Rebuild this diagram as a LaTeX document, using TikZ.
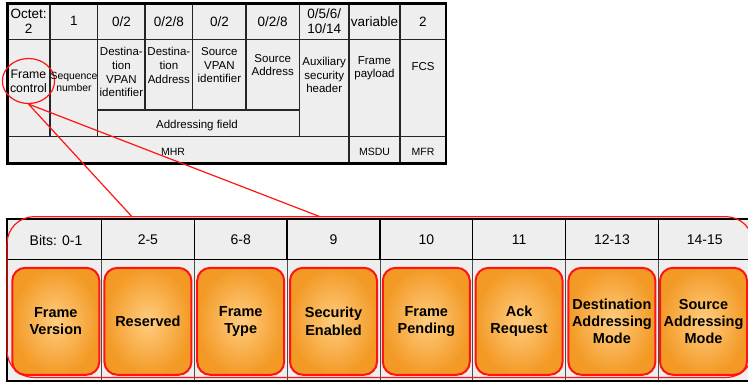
\documentclass[tikz,border=0pt]{standalone}
\usepackage{fontspec}
\setmainfont{Liberation Sans}
\usepackage{tikz}
\usepackage{xcolor}
\usetikzlibrary{shapes.geometric}
\definecolor{cellgray}{HTML}{EEEEEE}
\definecolor{boxlight}{HTML}{FFCD80}
\definecolor{boxdark}{HTML}{F39A26}
\definecolor{markred}{HTML}{FF1414}

\begin{document}
\begin{tikzpicture}[x=1pt,y=-1pt,
		octet/.style={align=center,inner sep=0pt,font=\fontsize{13.5}{15.5}\selectfont},
		field/.style={align=center,inner sep=0pt,font=\fontsize{11.5}{13.6}\selectfont},
		part/.style={inner sep=0pt,font=\fontsize{10.5}{12}\selectfont},
		bits/.style={inner sep=0pt,font=\fontsize{14}{16}\selectfont},
		subfield/.style={draw=markred,line width=2pt,rounded corners=13pt,inner color=boxlight,outer color=boxdark,minimum width=87pt,minimum height=107pt,align=center,inner sep=0pt,font=\fontsize{14.5}{17.2}\selectfont\bfseries}]
			\useasboundingbox (0,0) rectangle (748,385);
			\fill[cellgray] (7.3,3.3) rectangle (446,163.5);
			\begin{scope}[line width = 1.5pt, draw=black!85]
				\draw (7.3,39.3) -- (446,39.3);
				\draw (97.7,110) -- (299.3,110);
				\draw (7.3,136.7) -- (446,136.7);
				\draw (50,3.3) -- (50,136.7);
				\draw (97.7,3.3) -- (97.7,136.7);
				\draw (145,3.3) -- (145,110);
				\draw (192.7,3.3) -- (192.7,110);
				\draw (246,3.3) -- (246,110);
				\draw (299.3,3.3) -- (299.3,136.7);
				\draw (349,3.3) -- (349,163.5);
				\draw (400,3.3) -- (400,163.5);
			\end{scope}
			\draw [line width = 2.5pt](7.3,3.3) rectangle (446,163.5);
			\node[octet] (size1) at (28.7,21.3) {Octet:\\2};
			\node[octet] (size2) at (73.9,21.3) {1};
			\node[octet] (size3) at (121.4,21.3) {0/2};
			\node[octet] (size4) at (168.9,21.3) {0/2/8};
			\node[octet] (size5) at (219.4,21.3) {0/2};
			\node[octet] (size6) at (272.7,21.3) {0/2/8};
			\node[octet] (size7) at (324.2,21.3) {0/5/6/\\10/14};
			\node[octet] (size8) at (374.5,21.3) {variable};
			\node[octet] (size9) at (423,21.3) {2};
			\node[field,font=\fontsize{12.3}{14}\selectfont,ellipse,draw=markred,line width=1.2pt,minimum width=50pt,minimum height=45pt] (fc) at (28.5,81) {Frame\\control};
			\node[field,font=\fontsize{10.4}{12.5}\selectfont] (seq) at (74,82) {Sequence\\number};
			\node[field] (dstpan) at (121.4,72.2) {Destina-\\tion\\VPAN\\identifier};
			\node[field] (dstaddr) at (168.9,65.3) {Destina-\\tion\\Address};
			\node[field] (srcpan) at (219.4,65.3) {Source\\VPAN\\identifier};
			\node[field] (srcaddr) at (272.7,65) {Source\\Address};
			\node[field] (aux) at (324.2,75) {Auxiliary\\security\\header};
			\node[field] (payload) at (374.5,68.3) {Frame\\payload};
			\node[field] (fcs) at (423,66.7) {FCS};
			\node[field] (addr) at (197,126) {Addressing field};
			\node[part] (mhr) at (173,151.7) {MHR};
			\node[part] (msdu) at (374.5,151.7) {MSDU};
			\node[part] (mfr) at (423,151.7) {MFR};
			\fill[cellgray] (7.3,219.5) rectangle (752,381);
			\begin{scope}[line width = 0.8pt, draw=black!70]
				\draw (101.5,259.3) -- (101.5,381);
				\draw (194.3,259.3) -- (194.3,381);
				\draw (287.1,259.3) -- (287.1,381);
				\draw (379.9,259.3) -- (379.9,381);
				\draw (472.7,259.3) -- (472.7,381);
				\draw (565.5,259.3) -- (565.5,381);
				\draw (658.3,259.3) -- (658.3,381);
			\end{scope}
			\begin{scope}[line width = 1.5pt]
				\draw (7.3,259.3) -- (752,259.3);
				\draw (101.5,219.5) -- (101.5,259.3);
				\draw (194.3,219.5) -- (194.3,259.3);
				\draw (287.1,219.5) -- (287.1,259.3);
				\draw (379.9,219.5) -- (379.9,259.3);
				\draw (472.7,219.5) -- (472.7,259.3);
				\draw (565.5,219.5) -- (565.5,259.3);
				\draw (658.3,219.5) -- (658.3,259.3);
			\end{scope}
			\draw [line width = 2pt](7.3,219.5) rectangle (752,381);
			\node[bits] (bit1) at (56,240) {Bits: 0-1};
			\node[bits] (bit2) at (147.9,240) {2-5};
			\node[bits] (bit3) at (240.7,240) {6-8};
			\node[bits] (bit4) at (333.5,240) {9};
			\node[bits] (bit5) at (426.3,240) {10};
			\node[bits] (bit6) at (519.1,240) {11};
			\node[bits] (bit7) at (611.9,240) {12-13};
			\node[bits] (bit8) at (704.7,240) {14-15};
			\node[subfield] (version) at (55.8,321.3) {Frame\\Version};
			\node[subfield] (reserved) at (147.9,321.3) {Reserved};
			\node[subfield] (type) at (240.7,321.3) {Frame\\Type};
			\node[subfield] (security) at (333.5,321.3) {Security\\Enabled};
			\node[subfield] (pending) at (426.3,321.3) {Frame\\Pending};
			\node[subfield] (ack) at (519.1,321.3) {Ack\\Request};
			\node[subfield] (dstmode) at (611.9,321.3) {Destination\\Addressing\\Mode};
			\node[subfield] (srcmode) at (703.5,321.3) {Source\\Addressing\\Mode};
			\draw [markred, line width = 1.2pt, rounded corners=27pt](7,216.7) rectangle (753,377.5);
			\coordinate (zoomA) at (132,216.7);
			\coordinate (zoomB) at (320,216.7);
			\draw [markred, line width = 1.2pt](fc.south) -- (zoomA);
			\draw [markred, line width = 1.2pt](fc.south) -- (zoomB);
		\end{tikzpicture}
\end{document}
